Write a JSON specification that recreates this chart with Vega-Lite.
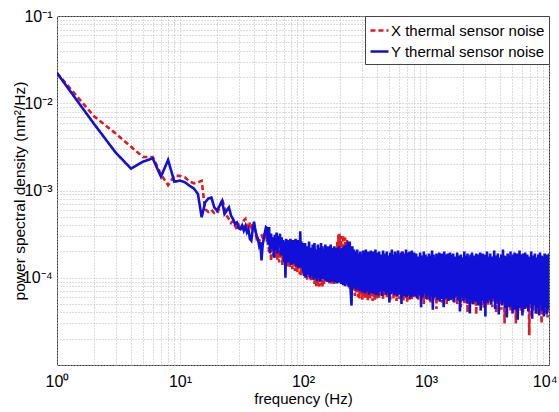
{
"$schema":"https://vega.github.io/schema/vega-lite/v6.json",
"autosize":{"type":"none"},
"width":492,"height":349,
"padding":{"left":57,"top":16,"right":10,"bottom":47},
"background":"white",
"config":{"font":"Liberation Sans","view":{"stroke":"#333","strokeWidth":1}},
"data":{"values":[
{"f":1,"X":0.0222,"Y":0.0222},{"f":2,"X":0.0071,"Y":0.0058},{"f":3,"X":0.0045,"Y":0.00272},{"f":4,"X":0.00318,"Y":0.00178},{"f":5,"X":0.00242,"Y":0.00214},{"f":6,"X":0.00242,"Y":0.00234},{"f":7,"X":0.00153,"Y":0.00144},{"f":8,"X":0.00115,"Y":0.00224},{"f":9,"X":0.00147,"Y":0.00126},{"f":10,"X":0.00147,"Y":0.0013},
{"f":11,"X":1.41e-3,"Y":1.24e-3},{"f":12,"X":1.26e-3,"Y":1.13e-3},{"f":13,"X":1.21e-3,"Y":1.05e-3},{"f":14,"X":1.24e-3,"Y":9.1e-4},{"f":15,"X":1.29e-3,"Y":4.93e-4},{"f":16,"X":6.1e-4,"Y":7.3e-4},{"f":17,"X":5.7e-4,"Y":8.1e-4},{"f":18,"X":6.0e-4,"Y":8.3e-4},{"f":19,"X":5.5e-4,"Y":6.4e-4},{"f":20,"X":5.4e-4,"Y":5.9e-4},
{"f":21,"X":6.4e-4,"Y":6.7e-4},{"f":22,"X":8.0e-4,"Y":7.6e-4},{"f":23,"X":6.4e-4,"Y":5.4e-4},{"f":24,"X":5.15e-4,"Y":5.9e-4},{"f":25,"X":4.7e-4,"Y":6.4e-4},{"f":26,"X":4.24e-4,"Y":5.15e-4},{"f":27,"X":4.5e-4,"Y":4.72e-4},{"f":28,"X":3.96e-4,"Y":4.13e-4},{"f":29,"X":3.6e-4,"Y":4.3e-4},{"f":30,"X":4.0e-4,"Y":3.69e-4},
{"f":31,"X":3.5e-4,"Y":3.6e-4},{"f":32,"X":3.9e-4,"Y":3.96e-4},{"f":33,"X":4.5e-4,"Y":3.47e-4},{"f":34,"X":4.72e-4,"Y":3.9e-4},{"f":35,"X":3.9e-4,"Y":3.32e-4},{"f":36,"X":3.6e-4,"Y":3.6e-4},{"f":37,"X":4.3e-4,"Y":2.79e-4},{"f":38,"X":3.8e-4,"Y":2.67e-4},{"f":39,"X":4.1e-4,"Y":3.6e-4},{"f":40,"X":3.96e-4,"Y":4.4e-4},
{"f":41,"X":3.4e-4,"Y":3.47e-4},{"f":42,"X":2.8e-4,"Y":3.04e-4},{"f":43,"X":2.9e-4,"Y":2.79e-4},{"f":44,"X":2.6e-4,"Y":2.34e-4},{"f":45,"X":2.8e-4,"Y":2.55e-4},{"f":46,"X":3.0e-4,"Y":1.58e-4},{"f":47,"X":2.9e-4,"Y":2.4e-4},{"f":48,"X":3.3e-4,"Y":2.79e-4},{"f":49,"X":2.8e-4,"Y":3.3e-4},{"f":50,"X":3.3e-4,"Y":3.79e-4},
{"f":51,"X":2.6e-4,"Y":3.7e-4},{"f":52,"X":3.1e-4,"Y":2.4e-4},{"f":53,"X":1.9e-4,"Y":3.8e-4},{"f":54,"X":2.9e-4,"Y":1.9e-4},{"f":55,"X":1.55e-4,"Y":3.2e-4},{"f":56,"X":2.7e-4,"Y":2.2e-4},{"f":57,"X":2.2e-4,"Y":2.9e-4},{"f":58,"X":1.8e-4,"Y":1.7e-4},{"f":59,"X":2.6e-4,"Y":3.1e-4},{"f":60,"X":1.7e-4,"Y":2.1e-4},
{"f":61,"X":2.4e-4,"Y":3.3e-4},{"f":62,"X":1.6e-4,"Y":1.9e-4},{"f":63,"X":2.3e-4,"Y":3.0e-4},{"f":64,"X":1.5e-4,"Y":2.3e-4},{"f":65,"X":2.1e-4,"Y":3.2e-4},{"f":66,"X":1.7e-4,"Y":1.8e-4},{"f":67,"X":2.5e-4,"Y":2.9e-4},{"f":68,"X":1.4e-4,"Y":2.0e-4},{"f":69,"X":2.2e-4,"Y":2.7e-4},{"f":70,"X":1.6e-4,"Y":1.5e-4},
{"f":71,"X":2.4e-4,"Y":2.6e-4},{"f":72,"X":1.5e-4,"Y":1.0e-4},{"f":73,"X":2.0e-4,"Y":2.8e-4},{"f":74,"X":1.3e-4,"Y":1.6e-4},{"f":75,"X":2.1e-4,"Y":2.7e-4},{"f":76,"X":1.45e-4,"Y":1.5e-4},{"f":77,"X":1.9e-4,"Y":2.5e-4},{"f":78,"X":1.3e-4,"Y":1.7e-4},{"f":79,"X":2.2e-4,"Y":2.8e-4},{"f":80,"X":1.4e-4,"Y":1.4e-4},
{"f":81,"X":1.8e-4,"Y":2.6e-4},{"f":82,"X":1.25e-4,"Y":1.6e-4},{"f":83,"X":2.0e-4,"Y":2.7e-4},{"f":84,"X":1.35e-4,"Y":1.45e-4},{"f":85,"X":1.9e-4,"Y":2.5e-4},{"f":86,"X":1.2e-4,"Y":1.5e-4},{"f":87,"X":2.1e-4,"Y":2.8e-4},{"f":88,"X":1.3e-4,"Y":1.35e-4},{"f":89,"X":1.8e-4,"Y":2.4e-4},{"f":90,"X":1.15e-4,"Y":1.5e-4},
{"f":91,"X":2.0e-4,"Y":2.7e-4},{"f":92,"X":1.25e-4,"Y":1.3e-4},{"f":93,"X":1.7e-4,"Y":2.5e-4},{"f":94,"X":1.1e-4,"Y":1.45e-4},{"f":95,"X":1.9e-4,"Y":3.4e-4},{"f":96,"X":1.05e-4,"Y":1.3e-4},{"f":97,"X":1.8e-4,"Y":2.6e-4},{"f":98,"X":1.2e-4,"Y":1.4e-4},{"f":99,"X":2.0e-4,"Y":2.5e-4},{"f":100,"X":1.15e-4,"Y":1.25e-4},
{"f":102,"X":2.0e-4,"Y":1.05e-4},{"f":104,"X":1.0e-4,"Y":2.5e-4},{"f":106,"X":1.9e-4,"Y":1.0e-4},{"f":108,"X":9.5e-5,"Y":2.3e-4},{"f":110,"X":2.1e-4,"Y":1.1e-4},{"f":112,"X":1.0e-4,"Y":2.6e-4},{"f":114,"X":1.8e-4,"Y":9.8e-5},{"f":116,"X":9.0e-5,"Y":2.2e-4},{"f":118,"X":2.0e-4,"Y":1.05e-4},{"f":120,"X":9.5e-5,"Y":2.4e-4},
{"f":122,"X":1.7e-4,"Y":9.5e-5},{"f":124,"X":8.5e-5,"Y":2.5e-4},{"f":126,"X":1.9e-4,"Y":1.0e-4},{"f":128,"X":8.0e-5,"Y":2.1e-4},{"f":130,"X":1.8e-4,"Y":9.2e-5},{"f":132,"X":7.8e-5,"Y":2.4e-4},{"f":134,"X":1.7e-4,"Y":1.0e-4},{"f":136,"X":7.9e-5,"Y":2.2e-4},{"f":138,"X":1.9e-4,"Y":9.0e-5},{"f":140,"X":8.2e-5,"Y":2.5e-4},
{"f":142,"X":1.6e-4,"Y":9.6e-5},{"f":144,"X":7.8e-5,"Y":2.3e-4},{"f":146,"X":1.8e-4,"Y":1.0e-4},{"f":148,"X":8.5e-5,"Y":2.1e-4},{"f":150,"X":1.7e-4,"Y":9.3e-5},{"f":152,"X":9.0e-5,"Y":2.4e-4},{"f":154,"X":1.9e-4,"Y":9.5e-5},{"f":156,"X":8.8e-5,"Y":2.2e-4},{"f":158,"X":1.7e-4,"Y":9.0e-5},{"f":160,"X":9.2e-5,"Y":2.3e-4},
{"f":162,"X":1.8e-4,"Y":9.7e-5},{"f":164,"X":8.6e-5,"Y":2.1e-4},{"f":166,"X":1.6e-4,"Y":8.9e-5},{"f":168,"X":9.0e-5,"Y":2.4e-4},{"f":170,"X":1.75e-4,"Y":9.4e-5},{"f":172,"X":8.4e-5,"Y":2.2e-4},{"f":174,"X":1.7e-4,"Y":9.0e-5},{"f":176,"X":8.8e-5,"Y":2.0e-4},{"f":178,"X":1.8e-4,"Y":9.2e-5},{"f":180,"X":8.5e-5,"Y":2.3e-4},
{"f":182,"X":1.9e-4,"Y":8.8e-5},{"f":184,"X":9.0e-5,"Y":2.1e-4},{"f":186,"X":2.2e-4,"Y":9.0e-5},{"f":188,"X":9.5e-5,"Y":2.2e-4},{"f":190,"X":2.6e-4,"Y":8.6e-5},{"f":192,"X":1.0e-4,"Y":2.0e-4},{"f":194,"X":3.1e-4,"Y":8.8e-5},{"f":196,"X":1.1e-4,"Y":2.3e-4},{"f":198,"X":3.2e-4,"Y":9.0e-5},{"f":200,"X":1.0e-4,"Y":2.1e-4},
{"f":204,"X":3.0e-4,"Y":8.5e-5},{"f":208,"X":1.0e-4,"Y":2.2e-4},{"f":212,"X":3.1e-4,"Y":8.2e-5},{"f":216,"X":9.0e-5,"Y":2.3e-4},{"f":220,"X":2.9e-4,"Y":8.0e-5},{"f":224,"X":8.5e-5,"Y":2.4e-4},{"f":228,"X":2.7e-4,"Y":8.4e-5},{"f":232,"X":8.0e-5,"Y":2.6e-4},{"f":236,"X":2.2e-4,"Y":7.8e-5},{"f":240,"X":7.5e-5,"Y":2.6e-4},
{"f":244,"X":1.8e-4,"Y":7.2e-5},{"f":248,"X":6.5e-5,"Y":4.8e-5},{"f":252,"X":1.7e-4,"Y":2.3e-4},{"f":256,"X":7.0e-5,"Y":7.5e-5},{"f":260,"X":1.8e-4,"Y":2.1e-4},{"f":264,"X":6.2e-5,"Y":7.8e-5},{"f":268,"X":1.7e-4,"Y":2.0e-4},{"f":272,"X":6.8e-5,"Y":7.2e-5},{"f":276,"X":1.6e-4,"Y":2.1e-4},{"f":280,"X":6.0e-5,"Y":7.6e-5},
{"f":284,"X":1.75e-4,"Y":1.9e-4},{"f":288,"X":5.8e-5,"Y":7.0e-5},{"f":292,"X":1.6e-4,"Y":2.0e-4},{"f":296,"X":6.4e-5,"Y":7.4e-5},{"f":300,"X":1.7e-4,"Y":1.85e-4},{"f":304,"X":5.6e-5,"Y":6.8e-5},{"f":308,"X":1.6e-4,"Y":2.05e-4},{"f":312,"X":6.2e-5,"Y":7.3e-5},{"f":316,"X":1.65e-4,"Y":1.9e-4},{"f":320,"X":5.9e-5,"Y":6.6e-5},
{"f":324,"X":1.55e-4,"Y":2.1e-4},{"f":328,"X":6.6e-5,"Y":7.1e-5},{"f":332,"X":1.7e-4,"Y":1.8e-4},{"f":336,"X":5.5e-5,"Y":6.9e-5},{"f":340,"X":1.6e-4,"Y":2.0e-4},{"f":344,"X":6.1e-5,"Y":6.4e-5},{"f":348,"X":1.75e-4,"Y":1.9e-4},{"f":352,"X":5.7e-5,"Y":7.2e-5},{"f":356,"X":1.6e-4,"Y":2.05e-4},{"f":360,"X":6.3e-5,"Y":6.7e-5},
{"f":364,"X":1.7e-4,"Y":1.85e-4},{"f":368,"X":5.4e-5,"Y":7.0e-5},{"f":372,"X":1.6e-4,"Y":2.0e-4},{"f":376,"X":6.0e-5,"Y":6.5e-5},{"f":380,"X":1.65e-4,"Y":1.9e-4},{"f":384,"X":5.6e-5,"Y":6.9e-5},{"f":388,"X":1.55e-4,"Y":2.1e-4},{"f":392,"X":6.2e-5,"Y":6.3e-5},{"f":396,"X":1.7e-4,"Y":1.95e-4},{"f":400,"X":5.8e-5,"Y":6.8e-5},
{"f":408,"X":1.6e-4,"Y":6.6e-5},{"f":416,"X":5.9e-5,"Y":2.0e-4},{"f":424,"X":1.7e-4,"Y":6.9e-5},{"f":432,"X":6.3e-5,"Y":1.85e-4},{"f":440,"X":1.6e-4,"Y":6.2e-5},{"f":448,"X":5.7e-5,"Y":2.05e-4},{"f":456,"X":1.65e-4,"Y":7.0e-5},{"f":464,"X":6.4e-5,"Y":1.9e-4},{"f":472,"X":1.55e-4,"Y":6.4e-5},{"f":480,"X":5.9e-5,"Y":2.0e-4},
{"f":488,"X":1.7e-4,"Y":6.7e-5},{"f":496,"X":6.2e-5,"Y":1.8e-4},{"f":504,"X":1.6e-4,"Y":5.2e-5},{"f":512,"X":5.6e-5,"Y":1.95e-4},{"f":520,"X":1.65e-4,"Y":6.5e-5},{"f":528,"X":6.5e-5,"Y":2.1e-4},{"f":536,"X":1.55e-4,"Y":6.8e-5},{"f":544,"X":5.8e-5,"Y":1.85e-4},{"f":552,"X":1.7e-4,"Y":6.3e-5},{"f":560,"X":6.1e-5,"Y":2.0e-4},
{"f":568,"X":1.6e-4,"Y":6.6e-5},{"f":576,"X":5.4e-5,"Y":1.9e-4},{"f":584,"X":1.75e-4,"Y":6.1e-5},{"f":592,"X":6.0e-5,"Y":2.05e-4},{"f":600,"X":1.6e-4,"Y":6.9e-5},{"f":608,"X":5.7e-5,"Y":1.8e-4},{"f":616,"X":1.65e-4,"Y":6.4e-5},{"f":624,"X":6.4e-5,"Y":1.95e-4},{"f":632,"X":1.55e-4,"Y":5.0e-5},{"f":640,"X":5.9e-5,"Y":2.0e-4},
{"f":648,"X":2.0e-4,"Y":6.7e-5},{"f":656,"X":5.5e-5,"Y":1.85e-4},{"f":664,"X":1.6e-4,"Y":6.2e-5},{"f":672,"X":6.2e-5,"Y":1.9e-4},{"f":680,"X":1.7e-4,"Y":6.5e-5},{"f":688,"X":5.8e-5,"Y":2.1e-4},{"f":696,"X":1.6e-4,"Y":6.0e-5},{"f":704,"X":5.3e-5,"Y":1.95e-4},{"f":712,"X":1.65e-4,"Y":6.8e-5},{"f":720,"X":6.1e-5,"Y":1.8e-4},
{"f":728,"X":1.55e-4,"Y":6.3e-5},{"f":736,"X":5.6e-5,"Y":2.0e-4},{"f":744,"X":1.7e-4,"Y":5.8e-5},{"f":752,"X":6.3e-5,"Y":1.9e-4},{"f":760,"X":1.6e-4,"Y":6.6e-5},{"f":768,"X":5.5e-5,"Y":2.05e-4},{"f":776,"X":1.65e-4,"Y":6.1e-5},{"f":784,"X":5.9e-5,"Y":1.85e-4},{"f":792,"X":1.6e-4,"Y":6.4e-5},{"f":800,"X":6.0e-5,"Y":1.95e-4},
{"f":816,"X":1.6e-4,"Y":6.2e-5},{"f":832,"X":6.0e-5,"Y":1.9e-4},{"f":848,"X":1.55e-4,"Y":5.8e-5},{"f":864,"X":5.5e-5,"Y":1.75e-4},{"f":880,"X":1.7e-4,"Y":6.4e-5},{"f":896,"X":6.2e-5,"Y":1.95e-4},{"f":912,"X":1.6e-4,"Y":4.6e-5},{"f":928,"X":5.8e-5,"Y":1.8e-4},{"f":944,"X":1.5e-4,"Y":6.0e-5},{"f":960,"X":5.0e-5,"Y":2.0e-4},
{"f":976,"X":1.65e-4,"Y":6.6e-5},{"f":992,"X":6.0e-5,"Y":1.85e-4},{"f":1008,"X":1.6e-4,"Y":5.7e-5},{"f":1024,"X":5.6e-5,"Y":1.75e-4},{"f":1040,"X":1.55e-4,"Y":6.3e-5},{"f":1056,"X":5.9e-5,"Y":1.9e-4},{"f":1072,"X":1.7e-4,"Y":5.5e-5},{"f":1088,"X":5.2e-5,"Y":1.8e-4},{"f":1104,"X":1.6e-4,"Y":6.1e-5},{"f":1120,"X":6.3e-5,"Y":2.05e-4},
{"f":1136,"X":1.5e-4,"Y":4.3e-5},{"f":1152,"X":5.6e-5,"Y":1.85e-4},{"f":1168,"X":1.65e-4,"Y":5.9e-5},{"f":1184,"X":6.0e-5,"Y":1.7e-4},{"f":1200,"X":1.6e-4,"Y":6.4e-5},{"f":1216,"X":4.4e-5,"Y":1.9e-4},{"f":1232,"X":1.55e-4,"Y":5.6e-5},{"f":1248,"X":5.8e-5,"Y":1.8e-4},{"f":1264,"X":1.7e-4,"Y":6.2e-5},{"f":1280,"X":5.5e-5,"Y":1.95e-4},
{"f":1296,"X":1.6e-4,"Y":5.3e-5},{"f":1312,"X":6.1e-5,"Y":1.75e-4},{"f":1328,"X":1.5e-4,"Y":6.0e-5},{"f":1344,"X":5.2e-5,"Y":1.9e-4},{"f":1360,"X":1.65e-4,"Y":5.7e-5},{"f":1376,"X":5.9e-5,"Y":1.8e-4},{"f":1392,"X":1.6e-4,"Y":4.6e-5},{"f":1408,"X":5.6e-5,"Y":2.0e-4},{"f":1424,"X":1.55e-4,"Y":6.1e-5},{"f":1440,"X":6.2e-5,"Y":1.85e-4},
{"f":1456,"X":1.7e-4,"Y":5.8e-5},{"f":1472,"X":5.0e-5,"Y":1.75e-4},{"f":1488,"X":1.6e-4,"Y":6.3e-5},{"f":1504,"X":5.7e-5,"Y":1.9e-4},{"f":1520,"X":1.5e-4,"Y":5.4e-5},{"f":1536,"X":5.4e-5,"Y":1.8e-4},{"f":1552,"X":1.65e-4,"Y":6.0e-5},{"f":1568,"X":6.0e-5,"Y":1.95e-4},{"f":1584,"X":1.6e-4,"Y":5.6e-5},{"f":1600,"X":5.5e-5,"Y":1.85e-4},
{"f":1632,"X":1.6e-4,"Y":5.8e-5},{"f":1664,"X":5.3e-5,"Y":1.9e-4},{"f":1696,"X":1.55e-4,"Y":5.2e-5},{"f":1728,"X":5.7e-5,"Y":1.75e-4},{"f":1760,"X":1.65e-4,"Y":6.1e-5},{"f":1792,"X":5.0e-5,"Y":1.95e-4},{"f":1824,"X":1.5e-4,"Y":5.5e-5},{"f":1856,"X":5.5e-5,"Y":1.8e-4},{"f":1888,"X":1.6e-4,"Y":4.1e-5},{"f":1920,"X":4.6e-5,"Y":1.85e-4},
{"f":1952,"X":1.7e-4,"Y":5.9e-5},{"f":1984,"X":5.8e-5,"Y":1.7e-4},{"f":2016,"X":1.55e-4,"Y":5.4e-5},{"f":2048,"X":5.1e-5,"Y":2.0e-4},{"f":2080,"X":1.6e-4,"Y":6.0e-5},{"f":2112,"X":5.6e-5,"Y":1.8e-4},{"f":2144,"X":1.5e-4,"Y":5.1e-5},{"f":2176,"X":4.0e-5,"Y":1.9e-4},{"f":2208,"X":1.65e-4,"Y":5.7e-5},{"f":2240,"X":5.4e-5,"Y":1.75e-4},
{"f":2272,"X":1.6e-4,"Y":3.9e-5},{"f":2304,"X":5.2e-5,"Y":1.85e-4},{"f":2336,"X":1.55e-4,"Y":5.5e-5},{"f":2368,"X":5.8e-5,"Y":1.95e-4},{"f":2400,"X":1.6e-4,"Y":5.0e-5},{"f":2432,"X":4.8e-5,"Y":1.8e-4},{"f":2464,"X":1.7e-4,"Y":5.8e-5},{"f":2496,"X":5.3e-5,"Y":1.7e-4},{"f":2528,"X":1.5e-4,"Y":5.3e-5},{"f":2560,"X":3.8e-5,"Y":1.9e-4},
{"f":2592,"X":1.6e-4,"Y":5.6e-5},{"f":2624,"X":5.5e-5,"Y":1.85e-4},{"f":2656,"X":1.55e-4,"Y":4.8e-5},{"f":2688,"X":5.0e-5,"Y":1.75e-4},{"f":2720,"X":1.65e-4,"Y":5.9e-5},{"f":2752,"X":5.6e-5,"Y":1.95e-4},{"f":2784,"X":1.5e-4,"Y":4.2e-5},{"f":2816,"X":4.7e-5,"Y":1.8e-4},{"f":2848,"X":1.6e-4,"Y":5.4e-5},{"f":2880,"X":5.3e-5,"Y":1.9e-4},
{"f":2912,"X":1.55e-4,"Y":5.7e-5},{"f":2944,"X":4.4e-5,"Y":1.7e-4},{"f":2976,"X":1.7e-4,"Y":5.1e-5},{"f":3008,"X":5.4e-5,"Y":1.85e-4},{"f":3040,"X":1.6e-4,"Y":3.6e-5},{"f":3072,"X":5.1e-5,"Y":1.8e-4},{"f":3104,"X":1.5e-4,"Y":5.5e-5},{"f":3136,"X":5.7e-5,"Y":2.0e-4},{"f":3168,"X":1.6e-4,"Y":5.2e-5},{"f":3200,"X":4.9e-5,"Y":1.75e-4},
{"f":3264,"X":1.55e-4,"Y":5.6e-5},{"f":3328,"X":5.2e-5,"Y":1.9e-4},{"f":3392,"X":1.6e-4,"Y":4.9e-5},{"f":3456,"X":4.6e-5,"Y":1.75e-4},{"f":3520,"X":1.65e-4,"Y":5.8e-5},{"f":3584,"X":5.3e-5,"Y":2.05e-4},{"f":3648,"X":1.5e-4,"Y":4.4e-5},{"f":3712,"X":4.0e-5,"Y":1.8e-4},{"f":3776,"X":1.6e-4,"Y":5.3e-5},{"f":3840,"X":5.0e-5,"Y":1.9e-4},
{"f":3904,"X":1.55e-4,"Y":3.8e-5},{"f":3968,"X":5.4e-5,"Y":1.7e-4},{"f":4032,"X":1.7e-4,"Y":5.5e-5},{"f":4096,"X":4.3e-5,"Y":1.85e-4},{"f":4160,"X":1.6e-4,"Y":4.8e-5},{"f":4224,"X":4.9e-5,"Y":2.1e-4},{"f":4288,"X":1.5e-4,"Y":5.2e-5},{"f":4352,"X":3.0e-5,"Y":1.8e-4},{"f":4416,"X":1.65e-4,"Y":4.5e-5},{"f":4480,"X":5.2e-5,"Y":1.75e-4},
{"f":4544,"X":1.55e-4,"Y":3.5e-5},{"f":4608,"X":4.6e-5,"Y":1.9e-4},{"f":4672,"X":1.6e-4,"Y":5.4e-5},{"f":4736,"X":5.3e-5,"Y":1.8e-4},{"f":4800,"X":1.5e-4,"Y":4.6e-5},{"f":4864,"X":4.1e-5,"Y":2.0e-4},{"f":4928,"X":1.7e-4,"Y":5.0e-5},{"f":4992,"X":4.9e-5,"Y":1.7e-4},{"f":5056,"X":1.55e-4,"Y":3.9e-5},{"f":5120,"X":4.4e-5,"Y":1.85e-4},
{"f":5184,"X":1.6e-4,"Y":5.3e-5},{"f":5248,"X":5.1e-5,"Y":1.95e-4},{"f":5312,"X":1.5e-4,"Y":4.3e-5},{"f":5376,"X":3.0e-5,"Y":1.75e-4},{"f":5440,"X":1.65e-4,"Y":5.1e-5},{"f":5504,"X":4.8e-5,"Y":1.9e-4},{"f":5568,"X":1.55e-4,"Y":3.3e-5},{"f":5632,"X":4.5e-5,"Y":1.8e-4},{"f":5696,"X":1.6e-4,"Y":4.9e-5},{"f":5760,"X":5.0e-5,"Y":2.05e-4},
{"f":5824,"X":1.5e-4,"Y":4.5e-5},{"f":5888,"X":4.2e-5,"Y":1.7e-4},{"f":5952,"X":1.65e-4,"Y":5.2e-5},{"f":6016,"X":4.7e-5,"Y":1.85e-4},{"f":6080,"X":1.55e-4,"Y":3.7e-5},{"f":6144,"X":3.9e-5,"Y":1.9e-4},{"f":6208,"X":1.6e-4,"Y":4.7e-5},{"f":6272,"X":4.8e-5,"Y":1.8e-4},{"f":6336,"X":1.5e-4,"Y":4.4e-5},{"f":6400,"X":4.4e-5,"Y":1.95e-4},
{"f":6528,"X":1.6e-4,"Y":4.6e-5},{"f":6656,"X":4.5e-5,"Y":1.85e-4},{"f":6784,"X":1.55e-4,"Y":4.1e-5},{"f":6912,"X":2.2e-5,"Y":1.75e-4},{"f":7040,"X":1.65e-4,"Y":5.0e-5},{"f":7168,"X":4.7e-5,"Y":2.0e-4},{"f":7296,"X":1.5e-4,"Y":3.4e-5},{"f":7424,"X":4.1e-5,"Y":1.8e-4},{"f":7552,"X":1.6e-4,"Y":4.8e-5},{"f":7680,"X":4.9e-5,"Y":1.9e-4},
{"f":7808,"X":1.55e-4,"Y":3.9e-5},{"f":7936,"X":3.8e-5,"Y":1.7e-4},{"f":8064,"X":1.7e-4,"Y":4.5e-5},{"f":8192,"X":4.7e-5,"Y":1.85e-4},{"f":8320,"X":1.5e-4,"Y":3.7e-5},{"f":8448,"X":4.2e-5,"Y":1.95e-4},{"f":8576,"X":1.6e-4,"Y":4.9e-5},{"f":8704,"X":3.0e-5,"Y":1.8e-4},{"f":8832,"X":1.55e-4,"Y":4.2e-5},{"f":8960,"X":4.5e-5,"Y":1.75e-4},
{"f":9088,"X":1.65e-4,"Y":3.6e-5},{"f":9216,"X":4.0e-5,"Y":1.9e-4},{"f":9344,"X":1.5e-4,"Y":4.6e-5},{"f":9472,"X":4.6e-5,"Y":1.85e-4},{"f":9600,"X":1.6e-4,"Y":3.8e-5},{"f":9728,"X":3.5e-5,"Y":1.8e-4},{"f":9856,"X":1.55e-4,"Y":4.4e-5},{"f":9984,"X":4.3e-5,"Y":1.9e-4}
]},
"transform":[{"fold":["X","Y"],"as":["series","psd"]}],
"mark":{"type":"line","strokeWidth":2.6,"clip":true},
"encoding":{
"x":{"field":"f","type":"quantitative","scale":{"type":"log","domain":[1,10000]},
"axis":{"values":[1,2,3,4,5,6,7,8,9,10,20,30,40,50,60,70,80,90,100,200,300,400,500,600,700,800,900,1000,2000,3000,4000,5000,6000,7000,8000,9000,10000],
"labelExpr":"datum.value == 1 ? '10⁰' : datum.value == 10 ? '10¹' : datum.value == 100 ? '10²' : datum.value == 1000 ? '10³' : datum.value == 10000 ? '10⁴' : ''",
"labelAlign":{"condition":{"test":"datum.value == 10000","value":"right"},"value":"center"},
"labelOffset":{"condition":{"test":"datum.value == 10000","value":8},"value":0},
"title":"frequency (Hz)","grid":true,"gridColor":"#b8b8b8","gridDash":[1,2],"domain":false,"ticks":false,
"labelFontSize":16,"labelPadding":8,"labelColor":"#000","labelFlush":false,"labelOverlap":false,"labelBound":false,
"titleFontSize":15,"titleFontWeight":"normal","titleColor":"#000","titleY":33,"titleBaseline":"middle"}},
"y":{"field":"psd","type":"quantitative","scale":{"type":"log","domain":[0.00001,0.1]},
"axis":{"values":[0.00001,0.00002,0.00003,0.00004,0.00005,0.00006,0.00007,0.00008,0.00009,0.0001,0.0002,0.0003,0.0004,0.0005,0.0006,0.0007,0.0008,0.0009,0.001,0.002,0.003,0.004,0.005,0.006,0.007,0.008,0.009,0.01,0.02,0.03,0.04,0.05,0.06,0.07,0.08,0.09,0.1],
"labelExpr":"datum.value == 0.1 ? '10⁻¹' : datum.value == 0.01 ? '10⁻²' : datum.value == 0.001 ? '10⁻³' : datum.value == 0.0001 ? '10⁻⁴' : ''",
"title":"power spectral density (nm²/Hz)","grid":true,"gridColor":"#b8b8b8","gridDash":[1,2],"domain":false,"ticks":false,
"labelFontSize":16,"labelPadding":5,"labelColor":"#000","labelFlush":false,"labelOverlap":false,"labelBound":false,
"titleFontSize":15.5,"titleFontWeight":"normal","titleColor":"#000","titleX":-38,"titleY":174.5,"titleAngle":-90,"titleAlign":"center","titleBaseline":"middle"}},
"color":{"field":"series","type":"nominal","scale":{"domain":["X","Y"],"range":["#e31a1c","#1010d8"]},
"legend":{"title":null,"orient":"none","legendX":308,"legendY":0,"labelExpr":"datum.label + ' thermal sensor noise'","labelFontSize":15,"labelColor":"#000","labelLimit":300,"symbolType":"stroke","symbolSize":324,"symbolStrokeWidth":2.5,"fillColor":"white","strokeColor":"#444","padding":4,"rowPadding":2,"labelOffset":1}},
"strokeDash":{"field":"series","type":"nominal","scale":{"domain":["X","Y"],"range":[[5,3],[1,0]]},
"legend":{"title":null,"orient":"none","legendX":308,"legendY":0,"labelExpr":"datum.label + ' thermal sensor noise'","labelFontSize":15,"labelColor":"#000","labelLimit":300,"symbolType":"stroke","symbolSize":324,"symbolStrokeWidth":2.5,"fillColor":"white","strokeColor":"#444","padding":4,"rowPadding":2,"labelOffset":1}}
}
}
